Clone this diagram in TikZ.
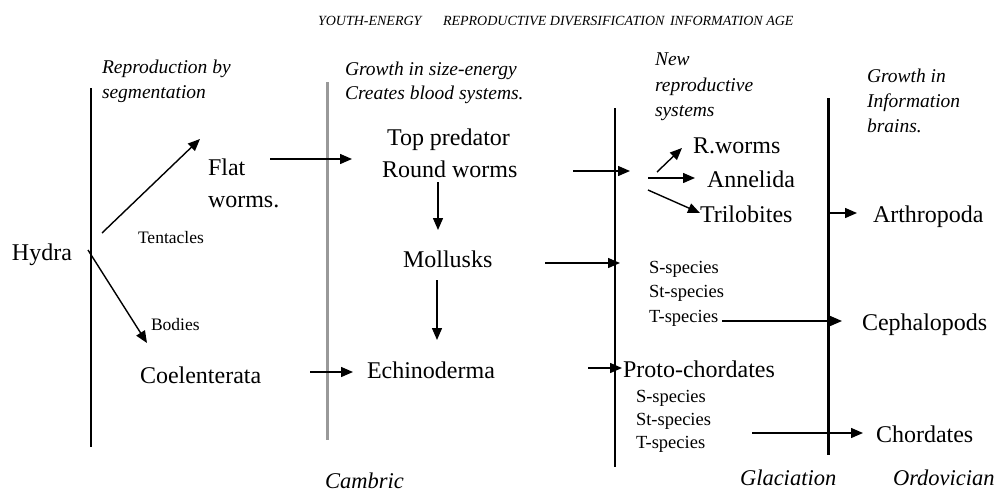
\documentclass[tikz,border=0pt]{standalone}
\usepackage{fontspec}
\setmainfont{Liberation Serif}
\usetikzlibrary{arrows.meta}
\begin{document}
\begin{tikzpicture}[x=1pt,y=-1pt,
  every node/.style={inner sep=0pt, outer sep=0pt},
  big/.style={font=\fontsize{24}{28}\selectfont, anchor=base west},
  note/.style={font=\fontsize{19.5}{22}\selectfont\itshape, anchor=base west},
  sml/.style={font=\fontsize{18.5}{21}\selectfont, anchor=base west},
  lbl/.style={font=\fontsize{17.5}{20}\selectfont, anchor=base west},
  head/.style={font=\fontsize{14}{16}\selectfont\itshape, anchor=base west},
  era/.style={font=\fontsize{22.5}{26}\selectfont\itshape, anchor=base west},
  arr/.style={line width=1.4pt, -{Triangle[length=12pt,width=10pt]}},
  thinrule/.style={line width=1.3pt},
  grayrule/.style={line width=3pt, draw=black!40},
  thickrule/.style={line width=3pt}]
\useasboundingbox (0,0) rectangle (1005,491);
% headers
\node[head] (h1) at (318,25) {YOUTH-ENERGY};
\node[head] (h2) at (443,25) {REPRODUCTIVE DIVERSIFICATION};
\node[head] (h3) at (670,25) {INFORMATION AGE};
% notes
\node[note] (n1a) at (102,73) {Reproduction by};
\node[note] (n1b) at (102,98) {segmentation};
\node[note] (n2a) at (345,75) {Growth in size-energy};
\node[note] (n2b) at (345,99) {Creates blood systems.};
\node[note] (n3a) at (655,65) {New};
\node[note] (n3b) at (655,91) {reproductive};
\node[note] (n3c) at (655,116) {systems};
\node[note] (n4a) at (867,82) {Growth in};
\node[note] (n4b) at (867,107) {Information};
\node[note] (n4c) at (867,132) {brains.};
% vertical rules
\draw[thinrule] (91,88) -- (91,447);
\draw[grayrule] (327,82) -- (327,440);
\draw[thinrule] (615,108) -- (615,467);
\draw[thickrule] (828,98) -- (828,455);
% main nodes
\node[big] (hydra) at (12,260) {Hydra};
\node[big] (flat1) at (208,175) {Flat};
\node[big] (flat2) at (208,207) {worms.};
\node[lbl] (tent) at (138,243) {Tentacles};
\node[lbl] (bod) at (151,330) {Bodies};
\node[big] (coel) at (140,383) {Coelenterata};
\node[big] (top) at (387,145) {Top predator};
\node[big] (round) at (382,177) {Round worms};
\node[big] (moll) at (403,267) {Mollusks};
\node[big] (echi) at (367,378) {Echinoderma};
\node[big] (rw) at (693,153) {R.worms};
\node[big] (ann) at (707,187) {Annelida};
\node[big] (tri) at (700,222) {Trilobites};
\node[big] (arth) at (873,222) {Arthropoda};
\node[sml] (s1) at (649,273) {S-species};
\node[sml] (st1) at (649,297) {St-species};
\node[sml] (t1) at (649,322) {T-species};
\node[big] (ceph) at (862,330) {Cephalopods};
\node[big] (proto) at (623,377) {Proto-chordates};
\node[sml] (s2) at (636,402) {S-species};
\node[sml] (st2) at (636,425) {St-species};
\node[sml] (t2) at (636,448) {T-species};
\node[big] (chord) at (876,442) {Chordates};
% eras
\node[era] (camb) at (325,488) {Cambric};
\node[era] (glac) at (740,485) {Glaciation};
\node[era] (ordo) at (893,485) {Ordovician};
% connector end points
\coordinate (hA) at (102,233); \coordinate (fA) at (200,139);
\coordinate (hB) at (88,250);  \coordinate (cB) at (147,343);
\coordinate (fS) at (270,159); \coordinate (fE) at (352,159);
\coordinate (cS) at (310,372); \coordinate (cE) at (353,372);
\coordinate (rS) at (438,182); \coordinate (rE) at (438,230);
\coordinate (mS) at (437,280); \coordinate (mE) at (437,340);
\coordinate (r2S) at (573,171); \coordinate (r2E) at (630,171);
\coordinate (m2S) at (545,263); \coordinate (m2E) at (620,263);
\coordinate (pS) at (588,368); \coordinate (pE) at (622,368);
\coordinate (rwS) at (657,172); \coordinate (rwE) at (682,148);
\coordinate (anS) at (648,178); \coordinate (anE) at (695,178);
\coordinate (trS) at (648,190); \coordinate (trE) at (700,213);
\coordinate (arS) at (827,213); \coordinate (arE) at (857,213);
\coordinate (cpS) at (722,321); \coordinate (cpE) at (842,321);
\coordinate (chS) at (752,433); \coordinate (chE) at (863,433);
% connectors
\draw[arr] (hA) -- (fA);
\draw[arr] (hB) -- (cB);
\draw[arr] (fS) -- (fE);
\draw[arr] (cS) -- (cE);
\draw[arr] (rS) -- (rE);
\draw[arr] (mS) -- (mE);
\draw[arr] (r2S) -- (r2E);
\draw[arr] (m2S) -- (m2E);
\draw[arr] (pS) -- (pE);
\draw[arr] (rwS) -- (rwE);
\draw[arr] (anS) -- (anE);
\draw[arr] (trS) -- (trE);
\draw[arr] (arS) -- (arE);
\draw[arr] (cpS) -- (cpE);
\draw[arr] (chS) -- (chE);
\end{tikzpicture}
\end{document}
